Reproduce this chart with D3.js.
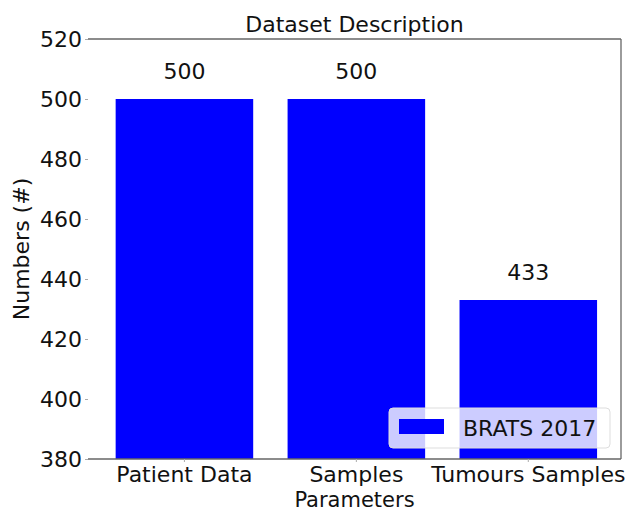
<!DOCTYPE html>
<html>
<head>
<meta charset="utf-8">
<script src="https://cdn.jsdelivr.net/npm/d3@7"></script>
<style>
    body { margin: 0; background: #fff; }
    text { font-family: "DejaVu Sans", sans-serif; fill: #111; }
</style>
</head>
<body>
<div id="chart"></div>
<script>
const categories = ['Patient Data', 'Samples', 'Tumours Samples'];
const values = [500, 500, 433];
const yTicks = [380, 400, 420, 440, 460, 480, 500, 520];
const seriesName = 'BRATS 2017';

const width = 640, height = 512;
const margin = { left: 88, right: 19, top: 39, bottom: 53 };
const x0 = margin.left, x1 = width - margin.right;
const y0 = margin.top, y1 = height - margin.bottom;
const fs = '22px';

const svg = d3.select('#chart').append('svg')
    .attr('width', width)
    .attr('height', height);

const x = d3.scaleBand()
    .domain(categories)
    .range([x0, x1])
    .paddingInner(0.2)
    .paddingOuter(0.15)
    .align(0.536);

const y = d3.scaleLinear()
    .domain([380, 520])
    .range([y1, y0]);

// bars
svg.selectAll('.bar')
    .data(values)
    .enter().append('rect')
    .attr('class', 'bar')
    .attr('x', (d, i) => x(categories[i]))
    .attr('width', x.bandwidth())
    .attr('y', d => y(d))
    .attr('height', d => y(380) - y(d))
    .attr('fill', '#0000ff');

// value labels
svg.selectAll('.val')
    .data(values)
    .enter().append('text')
    .attr('x', (d, i) => x(categories[i]) + x.bandwidth() / 2)
    .attr('y', d => y(d) - 20)
    .attr('text-anchor', 'middle')
    .style('font-size', fs)
    .text(d => d);

// spines (no left one)
const spine = '#666';
svg.append('line').attr('x1', x0).attr('x2', x1).attr('y1', y0).attr('y2', y0)
    .attr('stroke', spine).attr('stroke-width', 1.3);
svg.append('line').attr('x1', x1).attr('x2', x1).attr('y1', y0).attr('y2', y1)
    .attr('stroke', spine).attr('stroke-width', 1.3);
svg.append('line').attr('x1', x0).attr('x2', x1).attr('y1', y1).attr('y2', y1)
    .attr('stroke', spine).attr('stroke-width', 1.3);

// y axis
const yAxis = svg.append('g')
    .attr('transform', `translate(${x0},0)`)
    .call(d3.axisLeft(y).tickValues(yTicks).tickSize(3).tickPadding(3));
yAxis.select('.domain').remove();
yAxis.selectAll('.tick line').attr('stroke', '#aaa');
yAxis.selectAll('.tick text')
    .style('font-size', fs)
    .style('font-family', '"DejaVu Sans", sans-serif')
    .attr('fill', '#111');

// x axis
const xAxis = svg.append('g')
    .attr('transform', `translate(0,${y1})`)
    .call(d3.axisBottom(x).tickSize(3).tickPadding(4));
xAxis.select('.domain').remove();
xAxis.selectAll('.tick line').attr('stroke', '#aaa');
xAxis.selectAll('.tick text')
    .style('font-size', fs)
    .style('font-family', '"DejaVu Sans", sans-serif')
    .attr('fill', '#111');

// titles
svg.append('text')
    .attr('x', (x0 + x1) / 2)
    .attr('y', 32)
    .attr('text-anchor', 'middle')
    .style('font-size', fs)
    .text('Dataset Description');

svg.append('text')
    .attr('x', (x0 + x1) / 2)
    .attr('y', 507)
    .attr('text-anchor', 'middle')
    .style('font-size', '21px')
    .text('Parameters');

svg.append('text')
    .attr('transform', `translate(29,${(y0 + y1) / 2}) rotate(-90)`)
    .attr('text-anchor', 'middle')
    .style('font-size', fs)
    .text('Numbers (#)');

// legend
const legend = svg.append('g').attr('transform', 'translate(389,408)');
legend.append('rect')
    .attr('width', 221).attr('height', 40)
    .attr('rx', 4)
    .attr('fill', 'rgba(255,255,255,0.8)')
    .attr('stroke', '#ddd');
legend.append('rect')
    .attr('x', 10).attr('y', 11)
    .attr('width', 45).attr('height', 15)
    .attr('fill', '#0000ff');
legend.append('text')
    .attr('x', 74).attr('y', 28)
    .style('font-size', fs)
    .text(seriesName);
</script>
</body>
</html>
